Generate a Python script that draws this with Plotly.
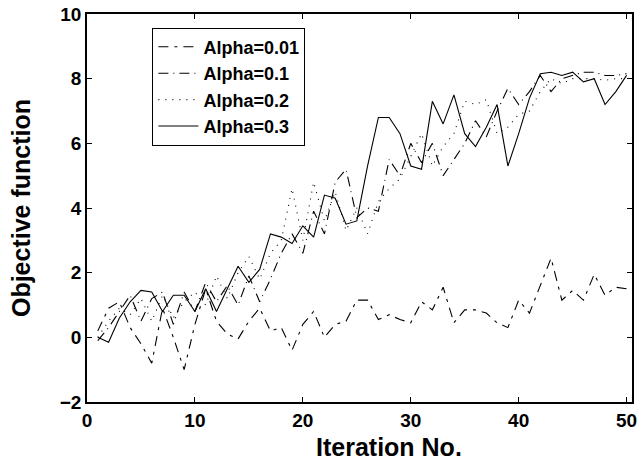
import plotly.graph_objects as go

iterations = list(range(1, 51))

alpha_001 = [0.2, 0.9, 1.1, 0.3, -0.2, -0.8, 0.9, 0.0, -1.0, 0.4,
             1.5, 0.5, 0.1, -0.05, 0.5, 0.9, 0.2, 0.3, -0.4, 0.4,
             0.8, 0.0, 0.4, 0.5, 1.15, 1.15, 0.55, 0.7, 0.55, 0.45,
             1.1, 0.85, 1.55, 0.45, 0.85, 0.85, 0.75, 0.45, 0.3, 1.15,
             0.75, 1.6, 2.45, 1.15, 1.45, 1.15, 1.95, 1.3, 1.55, 1.5]

alpha_01 = [-0.1, 0.3, 0.8, 1.3, 0.5, 1.2, 1.4, 0.4, 1.4, 0.8,
            1.7, 1.1, 1.6, 1.0, 1.9, 1.1, 1.8, 2.6, 3.2, 2.6,
            3.9, 3.2, 4.8, 5.2, 3.7, 4.0, 3.9, 5.5, 5.0, 6.0,
            5.4, 6.0, 5.0, 5.5, 6.0, 6.7, 6.2, 7.0, 7.7, 7.2,
            7.6, 8.1, 7.6, 8.0, 8.1, 8.2, 8.2, 8.1, 8.1, 8.15]

alpha_02 = [0.0, 0.5, 0.9, 0.7, 1.2, 0.5, 1.3, 0.6, 1.1, 1.4,
            1.0, 1.9, 1.2, 2.0, 2.5, 1.8, 2.6, 3.0, 4.6, 3.0,
            4.8, 3.6, 4.5, 3.3, 4.0, 3.2, 4.2, 4.6, 4.9, 5.6,
            6.3, 5.3, 5.9, 6.3, 7.3, 7.2, 7.35, 6.3, 6.5, 6.9,
            7.0, 7.6, 8.0, 7.85, 8.0, 8.0, 8.0, 7.95, 8.0, 8.0]

alpha_03 = [0.0, -0.15, 0.6, 1.1, 1.45, 1.4, 0.8, 1.3, 1.3, 0.8,
            1.5, 0.8, 1.5, 2.2, 1.7, 2.1, 3.2, 3.1, 2.9, 3.45,
            3.1, 4.4, 4.3, 3.5, 3.6, 5.3, 6.8, 6.8, 6.3, 5.3,
            5.2, 7.3, 6.6, 7.5, 6.3, 5.9, 6.5, 7.2, 5.3, 6.3,
            7.4, 8.15, 8.2, 8.1, 8.2, 7.9, 8.0, 7.2, 7.6, 8.1]

series = [
    ("Alpha=0.01", alpha_001, "10px,6px,3px,6px"),
    ("Alpha=0.1", alpha_01, "10px,5px,1px,5px"),
    ("Alpha=0.2", alpha_02, "1px,6px"),
    ("Alpha=0.3", alpha_03, "solid"),
]

fig = go.Figure()
for name, vals, dash in series:
    fig.add_trace(go.Scatter(
        x=iterations, y=vals, mode="lines", name=name,
        line=dict(color="black", width=1.1, dash=dash),
    ))

font = "Liberation Sans, Arial, sans-serif"
fig.update_layout(
    width=639, height=471,
    margin=dict(l=87, r=7, t=14, b=69),
    paper_bgcolor="white", plot_bgcolor="white",
    font=dict(family=font, size=19, color="black", weight="bold"),
    showlegend=True,
    legend=dict(
        x=0.12, y=0.965, xanchor="left", yanchor="top",
        bgcolor="white", bordercolor="black", borderwidth=1,
        font=dict(size=18, family=font, color="black", weight="bold"),
        tracegroupgap=0, itemwidth=40,
    ),
    xaxis=dict(
        range=[0, 50.5], tickvals=[0, 10, 20, 30, 40, 50],
        ticks="inside", ticklen=5, tickcolor="black",
        showline=True, linecolor="black", linewidth=1.5, mirror="ticks",
        showgrid=False, zeroline=False, automargin=False,
        tickfont=dict(size=19, weight="bold"),
    ),
    yaxis=dict(
        range=[-2, 10], tickvals=[-2, 0, 2, 4, 6, 8, 10],
        ticks="inside", ticklen=5, tickcolor="black",
        showline=True, linecolor="black", linewidth=1.5, mirror="ticks",
        showgrid=False, zeroline=False, automargin=False,
        title=dict(text="Objective function", font=dict(size=25, weight="bold"), standoff=22),
        tickfont=dict(size=19, weight="bold"),
    ),
    annotations=[dict(
        text="Iteration No.", xref="paper", yref="paper",
        x=0.554, y=-0.116, xanchor="center", yanchor="middle",
        showarrow=False, font=dict(size=25, weight="bold", family=font),
    )],
)

fig.write_html("out.html")
